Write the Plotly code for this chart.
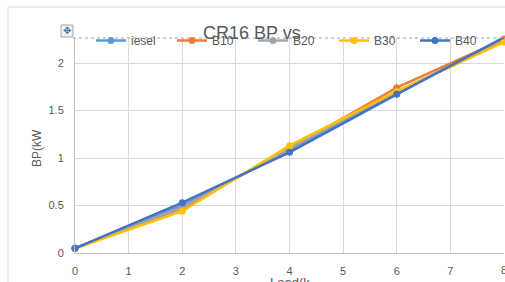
import plotly.graph_objects as go

load = [0, 2, 4, 6, 8]
diesel = [0.05, 0.50, 1.08, 1.69, 2.25]
b10 = [0.05, 0.47, 1.10, 1.74, 2.25]
b20 = [0.05, 0.48, 1.10, 1.70, 2.23]
b30 = [0.05, 0.44, 1.13, 1.70, 2.22]
b40 = [0.05, 0.53, 1.06, 1.67, 2.27]

series = [
    ("iesel", diesel, "#5B9BD5"),
    ("B10", b10, "#ED7D31"),
    ("B20", b20, "#A5A5A5"),
    ("B30", b30, "#FFC000"),
    ("B40", b40, "#4472C4"),
]

x_ticks = [0, 1, 2, 3, 4, 5, 6, 7, 8]
y_ticks = [0, 0.5, 1, 1.5, 2]

fig = go.Figure()
for name, vals, col in series:
    fig.add_trace(go.Scatter(
        x=load, y=vals, name=name, mode="lines+markers",
        line=dict(color=col, width=2.5),
        marker=dict(color=col, size=7, symbol="circle"),
        cliponaxis=False,
    ))

L, T, B = 75, 38, 29
W, H = 505, 282
pw = W - L - 1
ph = H - T - B


def px(xp):
    return (xp - L) / pw


def py(yp):
    return (H - B - yp) / ph


fig.update_layout(
    width=W, height=H,
    margin=dict(l=L, r=1, t=T, b=B, autoexpand=False),
    paper_bgcolor="white", plot_bgcolor="white",
    font=dict(family="Liberation Sans, Arial, sans-serif", color="#595959", size=11),
    showlegend=True,
    legend=dict(
        orientation="h", xref="paper", yref="paper",
        x=px(91), y=py(40.5), xanchor="left", yanchor="middle",
        entrywidth=36, entrywidthmode="pixels",
        bgcolor="rgba(0,0,0,0)", font=dict(size=12, color="#595959"),
        itemclick=False, tracegroupgap=0,
    ),
    xaxis=dict(
        range=[0, 8], tickvals=x_ticks, showgrid=True, gridcolor="#D9D9D9",
        gridwidth=1, zeroline=False, showline=True, linecolor="#BFBFBF",
        ticks="", ticklabelstandoff=8, tickfont=dict(size=11),
    ),
    yaxis=dict(
        range=[0, (H - B - T) / 95.0], tickvals=y_ticks, ticktext=["0", "0.5", "1", "1.5", "2"],
        showgrid=True, gridcolor="#D9D9D9", gridwidth=1, zeroline=False,
        showline=True, linecolor="#BFBFBF", ticks="", ticklabelstandoff=8,
        tickfont=dict(size=11),
    ),
    shapes=[
        dict(type="line", xref="paper", yref="paper", x0=px(8), x1=1.02, y0=py(7), y1=py(7),
             line=dict(color="#D9D9D9", width=1)),
        dict(type="line", xref="paper", yref="paper", x0=px(8), x1=px(8), y0=py(7), y1=py(290),
             line=dict(color="#D9D9D9", width=1)),
        dict(type="line", xref="paper", yref="paper", x0=px(73), x1=1.0, y0=1, y1=1,
             line=dict(color="#8FA8C8", width=1, dash="dot")),
        dict(type="rect", xref="paper", yref="paper", x0=px(61), x1=px(73), y0=py(37), y1=py(25),
             line=dict(color="#A6A6A6", width=1), fillcolor="#F2F2F2"),
    ],
    annotations=[
        dict(text="CR16 BP vs", xref="paper", yref="paper", x=px(252), y=py(33),
             showarrow=False, font=dict(size=18, color="#595959"), xanchor="center", yanchor="middle"),
        dict(text="BP(kW", xref="paper", yref="paper", x=px(37), y=py(148), textangle=-90,
             showarrow=False, font=dict(size=12, color="#595959"), xanchor="center", yanchor="middle"),
        dict(text="Load(k", xref="paper", yref="paper", x=px(290), y=py(272.5),
             showarrow=False, font=dict(size=13, color="#595959"), xanchor="center", yanchor="top"),
        dict(text="8", xref="x", yref="paper", x=x_ticks[-1], y=py(262),
             showarrow=False, font=dict(size=11, color="#595959"), xanchor="center", yanchor="top"),
        dict(text="✥", xref="paper", yref="paper", x=px(67), y=py(31),
             showarrow=False, font=dict(size=10, color="#2E75B6", family="DejaVu Sans"),
             xanchor="center", yanchor="middle"),
    ],
)

fig.write_html(
    "out.html",
    config={"displayModeBar": False},
    post_script="document.body.style.margin='0';document.body.style.overflow='hidden';",
)
